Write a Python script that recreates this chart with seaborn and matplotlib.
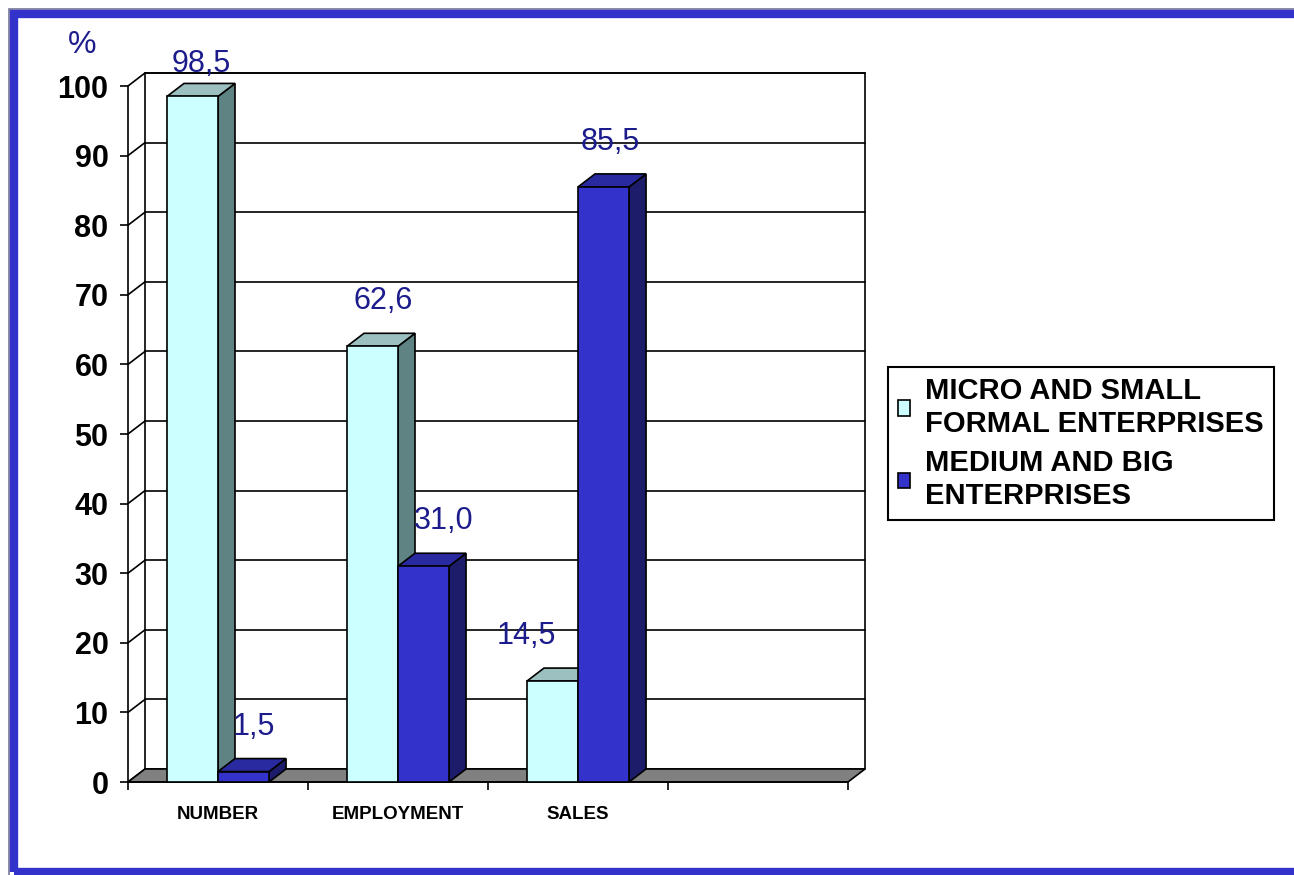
import matplotlib
matplotlib.use("Agg")
import numpy as np
import pandas as pd
import seaborn as sns
import matplotlib.pyplot as plt
from matplotlib.patches import Polygon, Rectangle
from matplotlib.lines import Line2D

# ---------------- data ----------------
categories = ["NUMBER", "EMPLOYMENT", "SALES"]
series_names = ["MICRO AND SMALL\nFORMAL ENTERPRISES", "MEDIUM AND BIG\nENTERPRISES"]
micro_small = [98.5, 62.6, 14.5]
medium_big = [1.5, 31.0, 85.5]
micro_small_labels = ["98,5", "62,6", "14,5"]
medium_big_labels = ["1,5", "31,0", "85,5"]
y_ticks = [0, 10, 20, 30, 40, 50, 60, 70, 80, 90, 100]
y_unit = "%"

# ---------------- style ----------------
front_colors = ["#CCFFFF", "#3333CC"]
side_colors = ["#5F8282", "#1C1C6A"]
top_colors = ["#9CC0C0", "#2A2AA0"]
label_color = "#1C1C8C"
label_nudge_px = [[0, 2, -35], [2, 12, -2]]
depth_px = (17, 13)

sns.set_theme(style="white")
plt.rcParams['font.family'] = ['Liberation Sans', 'DejaVu Sans']
plt.rcParams['text.color'] = 'black'

W, H, DPI = 1294, 875, 100
fig = plt.figure(figsize=(W / DPI, H / DPI), dpi=DPI)
fig.patch.set_facecolor("white")
ax = fig.add_axes([128 / W, (H - 782) / H, (848 - 128) / W, (782 - 86) / H])
ax.set_facecolor("none")

df = pd.DataFrame({
    "category": categories * 2,
    "value": micro_small + medium_big,
    "series": [series_names[0]] * len(categories) + [series_names[1]] * len(categories),
})

sns.barplot(data=df, x="category", y="value", hue="series", order=categories,
            hue_order=series_names, palette=front_colors, saturation=1,
            width=0.567, edgecolor="black", linewidth=1.2, legend=False, ax=ax)

ax.set_xlim(-0.5, 3.5)
ax.set_ylim(0, 100)
ax.set_xlabel("")
ax.set_ylabel("")


def back(x, y):
    disp = ax.transData.transform((x, y))
    disp = disp + np.array(depth_px)
    return tuple(ax.transData.inverted().transform(disp))


x0, x1 = ax.get_xlim()
# back wall
bw = [back(x0, 0), back(x1, 0), back(x1, 100), back(x0, 100)]
ax.add_patch(Polygon(bw, closed=True, facecolor="white", edgecolor="black",
                     linewidth=1.2, zorder=0.5, clip_on=False))
for t in y_ticks[1:]:
    a, b = back(x0, t), back(x1, t)
    ax.add_line(Line2D([a[0], b[0]], [a[1], b[1]], color="black", lw=1.2,
                       zorder=0.6, clip_on=False))
# left wall slants
for t in y_ticks:
    b = back(x0, t)
    ax.add_line(Line2D([x0, b[0]], [t, b[1]], color="black", lw=1.2,
                       zorder=0.6, clip_on=False))
# floor
fl = [(x0, 0), (x1, 0), back(x1, 0), back(x0, 0)]
ax.add_patch(Polygon(fl, closed=True, facecolor="#808080", edgecolor="black",
                     linewidth=1.2, zorder=1, clip_on=False))

# 3D faces for bars
z = 2.0
bars = []
for s, cont in enumerate(ax.containers):
    for i, p in enumerate(cont.patches):
        bars.append((p.get_x(), s, i, p))
bars.sort(key=lambda t: t[0])
for bx, s, i, p in bars:
    xl = p.get_x()
    xr = xl + p.get_width()
    h = p.get_height()
    p.set_zorder(z + 0.05)
    p.set_clip_on(False)
    side = [(xr, 0), (xr, h), back(xr, h), back(xr, 0)]
    top = [(xl, h), (xr, h), back(xr, h), back(xl, h)]
    ax.add_patch(Polygon(side, closed=True, facecolor=side_colors[s], edgecolor="black",
                         linewidth=1.2, zorder=z, clip_on=False))
    ax.add_patch(Polygon(top, closed=True, facecolor=top_colors[s], edgecolor="black",
                         linewidth=1.2, zorder=z, clip_on=False))
    z += 0.1

# value labels
all_vals = [micro_small, medium_big]
all_labels = [micro_small_labels, medium_big_labels]
for s, cont in enumerate(ax.containers):
    for i, p in enumerate(cont.patches):
        cx = p.get_x() + p.get_width() / 2
        v = all_vals[s][i]
        ax.annotate(all_labels[s][i], xy=(cx, min(v, 96.7)),
                    xytext=(depth_px[0] / 2 + label_nudge_px[s][i], 45),
                    textcoords="offset pixels", ha="center", va="center",
                    color=label_color, fontsize=22, zorder=10, annotation_clip=False)

# axes styling
for sp in ["top", "right"]:
    ax.spines[sp].set_visible(False)
for sp in ["left", "bottom"]:
    ax.spines[sp].set_color("black")
    ax.spines[sp].set_linewidth(1.2)
    ax.spines[sp].set_zorder(1.5)
ax.set_yticks(y_ticks)
ax.set_yticklabels([str(t) for t in y_ticks], fontsize=22, fontweight="bold", color="black")
ax.tick_params(axis="y", direction="out", length=6, width=1.2, color="black", pad=8, left=True)
ax.set_xticks(range(len(categories)))
ax.set_xticklabels(categories, fontsize=13.5, fontweight="bold", color="black")
ax.set_xticks(np.arange(x0, x1 + 0.01, 1.0), minor=True)
ax.tick_params(axis="x", which="major", length=0, pad=17)
ax.tick_params(axis="x", which="minor", direction="out", length=6, width=1.2,
               color="black", bottom=True)
ax.grid(False)

# unit label
fig.text(82 / W, 1 - 45 / H, y_unit, ha="center", va="center", color=label_color,
         fontsize=23)

# legend
handles = [Rectangle((0, 0), 1, 1, facecolor=front_colors[k], edgecolor="black", linewidth=1.2)
           for k in range(2)]
leg = fig.legend(handles, series_names, loc="upper left",
                 bbox_to_anchor=(888 / W, 1 - 367 / H), bbox_transform=fig.transFigure,
                 prop={"size": 21, "weight": "bold"}, frameon=True, fancybox=False,
                 framealpha=1, edgecolor="black", borderpad=0.35, borderaxespad=0,
                 handlelength=0.42, handleheight=0.42, handletextpad=0.5,
                 labelspacing=0.4, labelcolor="black")
leg.get_frame().set_linewidth(1.5)

# outer frame
fig.patches.append(Rectangle((8.5 / W, -5 / H), 1.2, 1 - 3.5 / H, transform=fig.transFigure,
                             fill=False, edgecolor="#77779A", linewidth=1.2, zorder=0))
fig.patches.append(Rectangle((14 / W, 3.5 / H), 1.2, 1 - 17.5 / H, transform=fig.transFigure,
                             fill=False, edgecolor="#3333CC", linewidth=6, zorder=0))

fig.savefig("out.png", dpi=DPI, facecolor="white")
